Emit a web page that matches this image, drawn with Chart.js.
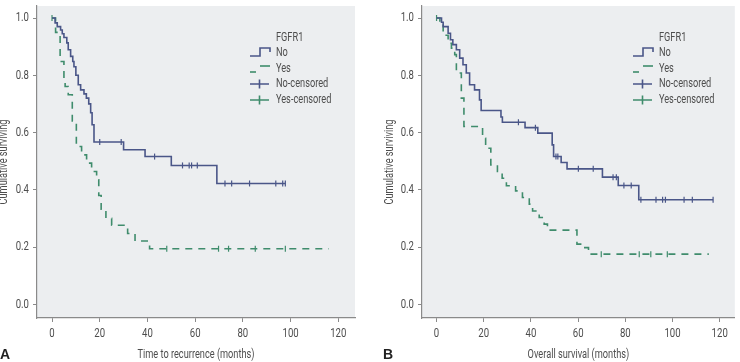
<!DOCTYPE html>
<html>
<head>
<meta charset="utf-8">
<script src="https://cdn.jsdelivr.net/npm/chart.js@4.4.1/dist/chart.umd.min.js"></script>
<style>
  html, body { margin: 0; padding: 0; background: #fff; }
  #wrap { position: relative; width: 740px; height: 362px; overflow: hidden; }
  .panel { position: absolute; top: 0; width: 370px; height: 362px; }
</style>
</head>
<body>
<div id="wrap">
  <div class="panel" style="left:0"><canvas id="chartA" width="370" height="362"></canvas></div>
  <div class="panel" style="left:370px"><canvas id="chartB" width="370" height="362"></canvas></div>
</div>
<script>
// shared ticks / labels
const xTicks = [0, 20, 40, 60, 80, 100, 120];
const yTicks = [0.0, 0.2, 0.4, 0.6, 0.8, 1.0];
const legendTitle = "FGFR1";
const legendLabels = ["No", "Yes", "No-censored", "Yes-censored"];

// Panel A: time to recurrence
const recurNoTime = [0, 1.3, 2.2, 3.6, 4.3, 5.0, 6.2, 6.8, 7.8, 8.7, 9.2, 10.0, 11.0, 12.0, 13.4, 14.4, 15.4, 16.2, 16.8, 17.6, 30.0, 39.0, 50.0, 69.1, 97.8];
const recurNoSurv = [1.0, 0.983, 0.97, 0.958, 0.945, 0.932, 0.913, 0.889, 0.866, 0.848, 0.83, 0.80, 0.767, 0.749, 0.735, 0.72, 0.70, 0.669, 0.627, 0.567, 0.54, 0.516, 0.485, 0.422, 0.422];
const recurNoCensor = [20.0, 29.0, 43.0, 54.7, 57.5, 58.5, 60.9, 72.5, 75.3, 82.8, 93.8, 96.7, 97.8];

const recurYesTime = [0, 1.5, 3.4, 5.0, 5.5, 6.8, 8.5, 10.2, 12.4, 14.5, 16.6, 18.7, 19.6, 20.6, 22.6, 25.0, 31.7, 34.8, 40.9, 116.0];
const recurYesSurv = [1.0, 0.95, 0.848, 0.79, 0.761, 0.732, 0.64, 0.551, 0.522, 0.493, 0.464, 0.435, 0.38, 0.332, 0.30, 0.276, 0.247, 0.221, 0.194, 0.194];
const recurYesCensor = [0, 48.1, 69.8, 74.0, 85.2, 97.8];

// Panel B: overall survival
const osNoTime = [0, 2.1, 2.8, 4.9, 5.9, 6.9, 8.4, 9.8, 11.2, 12.6, 14.0, 16.1, 18.2, 18.9, 27.3, 27.9, 37.5, 42.9, 49.0, 49.6, 52.8, 55.3, 70.3, 77.0, 85.7, 117.2];
const osNoSurv = [1.0, 0.985, 0.97, 0.947, 0.924, 0.907, 0.889, 0.86, 0.837, 0.808, 0.767, 0.749, 0.714, 0.677, 0.654, 0.636, 0.617, 0.598, 0.557, 0.516, 0.495, 0.473, 0.444, 0.415, 0.365, 0.365];
const osNoCensor = [34.7, 41.9, 50.6, 51.4, 60.1, 66.4, 74.8, 76.2, 79.4, 82.5, 86.6, 93.0, 95.8, 97.0, 104.9, 108.4, 117.2];

const osYesTime = [0, 1.4, 2.8, 4.9, 6.3, 7.7, 8.4, 10.5, 11.6, 19.5, 20.8, 23.0, 25.8, 27.8, 29.6, 33.5, 36.4, 39.3, 40.7, 43.5, 45.6, 47.0, 59.5, 62.3, 64.4, 115.4];
const osYesSurv = [1.0, 0.978, 0.94, 0.912, 0.895, 0.872, 0.808, 0.72, 0.621, 0.58, 0.545, 0.487, 0.464, 0.44, 0.414, 0.396, 0.373, 0.35, 0.326, 0.303, 0.28, 0.259, 0.21, 0.198, 0.175, 0.175];
const osYesCensor = [0, 69.8, 85.9, 90.8, 97.8];

const NO_COLOR = "#4a5688";
const YES_COLOR = "#3f8c6c";
const TEXT_COLOR = "#4d4d4d";
const AXIS_COLOR = "#8a8a8a";
const FONT_FAMILY = "Roboto, 'Liberation Sans', sans-serif";

// the original uses a condensed face; squeeze Roboto horizontally to match
let SX = 0.76;
(function measureSX() {
  const c = document.createElement("canvas").getContext("2d");
  c.font = `12.5px ${FONT_FAMILY}`;
  const w = c.measureText("Time to recurrence (months)").width;
  if (w > 0) SX = Math.min(1, 117 / w);
})();

function condText(ctx, text, x, y, align, rot) {
  ctx.save();
  ctx.translate(x, y);
  if (rot) ctx.rotate(rot);
  ctx.scale(SX, 1);
  ctx.textAlign = align;
  ctx.fillText(text, 0, 0);
  ctx.restore();
}

function toPoints(times, surv) {
  return times.map((t, i) => ({ x: t, y: surv[i] }));
}

// value of a KM step curve at time t (puts censor ticks on the curve)
function survAt(times, surv, t) {
  let s = surv[0];
  for (let i = 0; i < times.length; i++) {
    if (times[i] <= t) s = surv[i];
  }
  return s;
}

function censorPoints(censor, times, surv) {
  return censor.map((t) => ({ x: t, y: survAt(times, surv, t) }));
}

const plotBgPlugin = {
  id: "plotBg",
  beforeDraw(chart) {
    const { ctx, chartArea: a } = chart;
    ctx.save();
    ctx.fillStyle = "#eceef0";
    ctx.fillRect(a.left, a.top, a.right - a.left, a.bottom - a.top);
    ctx.restore();
  },
};

// axis labels, titles, inside legend and panel letter
const textPlugin = {
  id: "kmText",
  afterDraw(chart, args, opts) {
    const { ctx, chartArea: a } = chart;
    const xs = chart.scales.x;
    const ys = chart.scales.y;
    ctx.save();
    ctx.setLineDash([]);
    ctx.fillStyle = TEXT_COLOR;
    ctx.textBaseline = "middle";

    ctx.font = `13px ${FONT_FAMILY}`;
    xTicks.forEach((v) => condText(ctx, String(v), xs.getPixelForValue(v), 333.5, "center"));
    yTicks.forEach((v) => condText(ctx, v.toFixed(1), a.left - 8, ys.getPixelForValue(v), "right"));

    ctx.font = `12.5px ${FONT_FAMILY}`;
    condText(ctx, opts.xTitle, (a.left + a.right) / 2, 355, "center");
    condText(ctx, "Cumulative surviving", opts.yTitleX, (a.top + a.bottom) / 2, "center", -Math.PI / 2);

    // legend
    const x0 = opts.legendX;
    const tx = x0 + 26;
    condText(ctx, legendTitle, tx, 37.5, "left");
    const rows = legendLabels.map((_, i) => Math.round(53 + i * 15.7));
    legendLabels.forEach((lab, i) => condText(ctx, lab, tx, rows[i], "left"));

    ctx.lineWidth = 1.6;
    let y = rows[0];
    ctx.strokeStyle = NO_COLOR;
    ctx.beginPath();
    ctx.moveTo(x0, y + 3);
    ctx.lineTo(x0 + 10, y + 3);
    ctx.lineTo(x0 + 10, y - 5);
    ctx.lineTo(x0 + 20, y - 5);
    ctx.lineTo(x0 + 20, y - 1);
    ctx.stroke();

    y = rows[1];
    ctx.strokeStyle = YES_COLOR;
    ctx.beginPath();
    ctx.moveTo(x0, y + 3);
    ctx.lineTo(x0 + 6, y + 3);
    ctx.stroke();
    ctx.beginPath();
    ctx.moveTo(x0 + 10, y - 3);
    ctx.lineTo(x0 + 20, y - 3);
    ctx.stroke();

    [[rows[2], NO_COLOR], [rows[3], YES_COLOR]].forEach(([yy, c]) => {
      ctx.strokeStyle = c;
      ctx.beginPath();
      ctx.moveTo(x0, yy);
      ctx.lineTo(x0 + 19, yy);
      ctx.moveTo(x0 + 9.5, yy - 4.5);
      ctx.lineTo(x0 + 9.5, yy + 4.5);
      ctx.stroke();
    });

    // panel letter
    ctx.font = "bold 14px 'Liberation Sans', Arial, sans-serif";
    ctx.fillStyle = "#222";
    ctx.textAlign = "left";
    ctx.fillText(opts.letter, opts.letterX, 355);
    ctx.restore();
  },
};

function makeChart(canvasId, cfg) {
  return new Chart(document.getElementById(canvasId), {
    type: "line",
    plugins: [plotBgPlugin, textPlugin],
    data: {
      datasets: [
        {
          label: "No",
          data: toPoints(cfg.noTime, cfg.noSurv),
          borderColor: NO_COLOR,
          borderWidth: 1.6,
          stepped: "before",
          pointRadius: 0,
          fill: false,
        },
        {
          label: "Yes",
          data: toPoints(cfg.yesTime, cfg.yesSurv),
          borderColor: YES_COLOR,
          borderWidth: 1.6,
          borderDash: [7, 6],
          stepped: "before",
          pointRadius: 0,
          fill: false,
        },
        {
          label: "No-censored",
          data: censorPoints(cfg.noCensor, cfg.noTime, cfg.noSurv),
          showLine: false,
          pointStyle: "line",
          rotation: 90,
          pointRadius: 3,
          borderColor: NO_COLOR,
          borderWidth: 1.2,
        },
        {
          label: "Yes-censored",
          data: censorPoints(cfg.yesCensor, cfg.yesTime, cfg.yesSurv),
          showLine: false,
          pointStyle: "line",
          rotation: 90,
          pointRadius: 3,
          borderColor: YES_COLOR,
          borderWidth: 1.2,
        },
      ],
    },
    options: {
      responsive: false,
      animation: false,
      events: [],
      layout: { padding: { top: 6, right: cfg.padRight, left: 0, bottom: 0 } },
      plugins: {
        legend: { display: false },
        tooltip: { enabled: false },
        kmText: {
          xTitle: cfg.xTitle, yTitleX: cfg.yTitleX,
          legendX: cfg.legendX, letter: cfg.letter, letterX: cfg.letterX,
        },
      },
      scales: {
        x: {
          type: "linear",
          min: cfg.xMin,
          max: cfg.xMax,
          afterBuildTicks: (s) => { s.ticks = xTicks.map((v) => ({ value: v })); },
          afterFit: (s) => { s.height = 44; },
          grid: { drawOnChartArea: false, drawTicks: true, tickLength: 4, color: AXIS_COLOR },
          border: { color: AXIS_COLOR, width: 1.2 },
          ticks: { display: false },
        },
        y: {
          min: -0.048,
          max: 1.042,
          afterBuildTicks: (s) => { s.ticks = yTicks.map((v) => ({ value: v })); },
          afterFit: (s) => { s.width = cfg.yWidth; },
          grid: { drawOnChartArea: false, drawTicks: true, tickLength: 4, color: AXIS_COLOR },
          border: { color: AXIS_COLOR, width: 1.2 },
          ticks: { display: false },
        },
      },
    },
  });
}

makeChart("chartA", {
  noTime: recurNoTime, noSurv: recurNoSurv, noCensor: recurNoCensor,
  yesTime: recurYesTime, yesSurv: recurYesSurv, yesCensor: recurYesCensor,
  xTitle: "Time to recurrence (months)",
  xMin: -6.29, xMax: 127.0, yWidth: 37, padRight: 15, yTitleX: 4,
  legendX: 250, letter: "A", letterX: 0,
});

makeChart("chartB", {
  noTime: osNoTime, noSurv: osNoSurv, noCensor: osNoCensor,
  yesTime: osYesTime, yesSurv: osYesSurv, yesCensor: osYesCensor,
  xTitle: "Overall survival (months)",
  xMin: -6.17, xMax: 126.4, yWidth: 52, padRight: 2, yTitleX: 20,
  legendX: 263, letter: "B", letterX: 13,
});
</script>
</body>
</html>
